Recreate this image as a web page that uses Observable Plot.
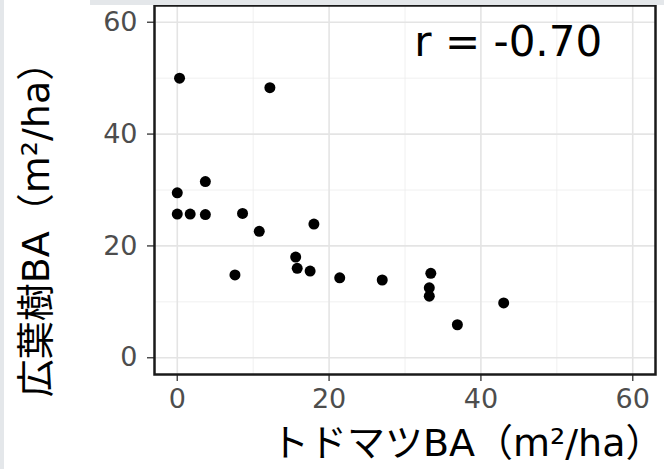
<!DOCTYPE html>
<html><head><meta charset="utf-8">
<script src="https://cdn.jsdelivr.net/npm/d3@7"></script>
<script src="https://cdn.jsdelivr.net/npm/@observablehq/plot@0.6"></script>
<style>
html,body{margin:0;padding:0;background:#fff;}
#wrap{position:relative;width:664px;height:469px;overflow:hidden;background:#fff;}
#chart svg{display:block;}
.strip{position:absolute;background:#e4e7ea;z-index:2;}
</style></head><body>
<div id="wrap">
  <div id="chart"></div>
  <div class="strip" style="left:0;top:0;width:4px;height:469px"></div>
  <div class="strip" style="left:90px;top:0;width:574px;height:5px"></div>
</div>
<script>
// トドマツBA (x) and 広葉樹BA (y), m²/ha
const todomatsuBA = [0.3, 12.2, 3.7, 0.0, 0.0, 1.7, 3.7, 8.6, 10.8, 18.0, 7.6, 15.6, 15.8, 17.5, 21.4, 27.0, 33.4, 33.2, 33.2, 36.9, 43.0];
const broadleafBA = [50.0, 48.3, 31.5, 29.5, 25.7, 25.7, 25.6, 25.8, 22.6, 23.9, 14.8, 18.0, 16.0, 15.5, 14.3, 13.9, 15.1, 12.5, 11.0, 5.9, 9.8];
const majorTicks = [0, 20, 40, 60];
const minorTicks = [10, 30, 50];
const axisDomain = [-3, 63];
const xTitle = "トドマツBA（m²/ha）";
const yTitle = "広葉樹BA（m²/ha）";
const rLabel = ["r = -0.70"];
const rLabelX = [43.6];
const rLabelY = [56.4];

const points = todomatsuBA.map((x, i) => ({x, y: broadleafBA[i]}));
const annot = rLabel.map((t, i) => ({t, x: rLabelX[i], y: rLabelY[i]}));
const FONT = "'DejaVu Sans', 'Noto Sans CJK JP', sans-serif";

const chart = Plot.plot({
  width: 664,
  height: 469,
  marginLeft: 154,
  marginRight: 9,
  marginTop: 5,
  marginBottom: 95,
  style: {fontFamily: FONT, background: "white"},
  x: {domain: axisDomain, label: null},
  y: {domain: axisDomain, label: null},
  marks: [
    Plot.gridX(minorTicks, {stroke: "#ececec", strokeOpacity: 1, strokeWidth: 0.8}),
    Plot.gridY(minorTicks, {stroke: "#ececec", strokeOpacity: 1, strokeWidth: 0.8}),
    Plot.gridX(majorTicks, {stroke: "#e4e4e4", strokeOpacity: 1, strokeWidth: 1.6}),
    Plot.gridY(majorTicks, {stroke: "#e4e4e4", strokeOpacity: 1, strokeWidth: 1.6}),
    Plot.axisX(majorTicks, {tickSize: 7, tickPadding: 7, fontSize: 27, color: "#4d4d4d", label: null, strokeWidth: 1.5}),
    Plot.axisY(majorTicks, {tickSize: 7, tickPadding: 10, fontSize: 27, color: "#4d4d4d", label: null, strokeWidth: 1.5}),
    Plot.dot(points, {x: "x", y: "y", r: 5.5, fill: "black", stroke: "none"}),
    Plot.text(annot, {x: "x", y: "y", text: "t", fontSize: 42, fill: "black", textAnchor: "middle"}),
    Plot.frame({stroke: "#1a1a1a", strokeWidth: 2.5}),
    Plot.text([xTitle], {text: d => d, frameAnchor: "bottom-right", textAnchor: "end", dx: 8, dy: 81, fontSize: 38, fill: "black"}),
    Plot.text([yTitle], {text: d => d, frameAnchor: "left", rotate: -90, textAnchor: "middle", dx: -118, dy: 30, fontSize: 38, fill: "black"})
  ]
});
document.getElementById("chart").appendChild(chart);
</script>
</body></html>
